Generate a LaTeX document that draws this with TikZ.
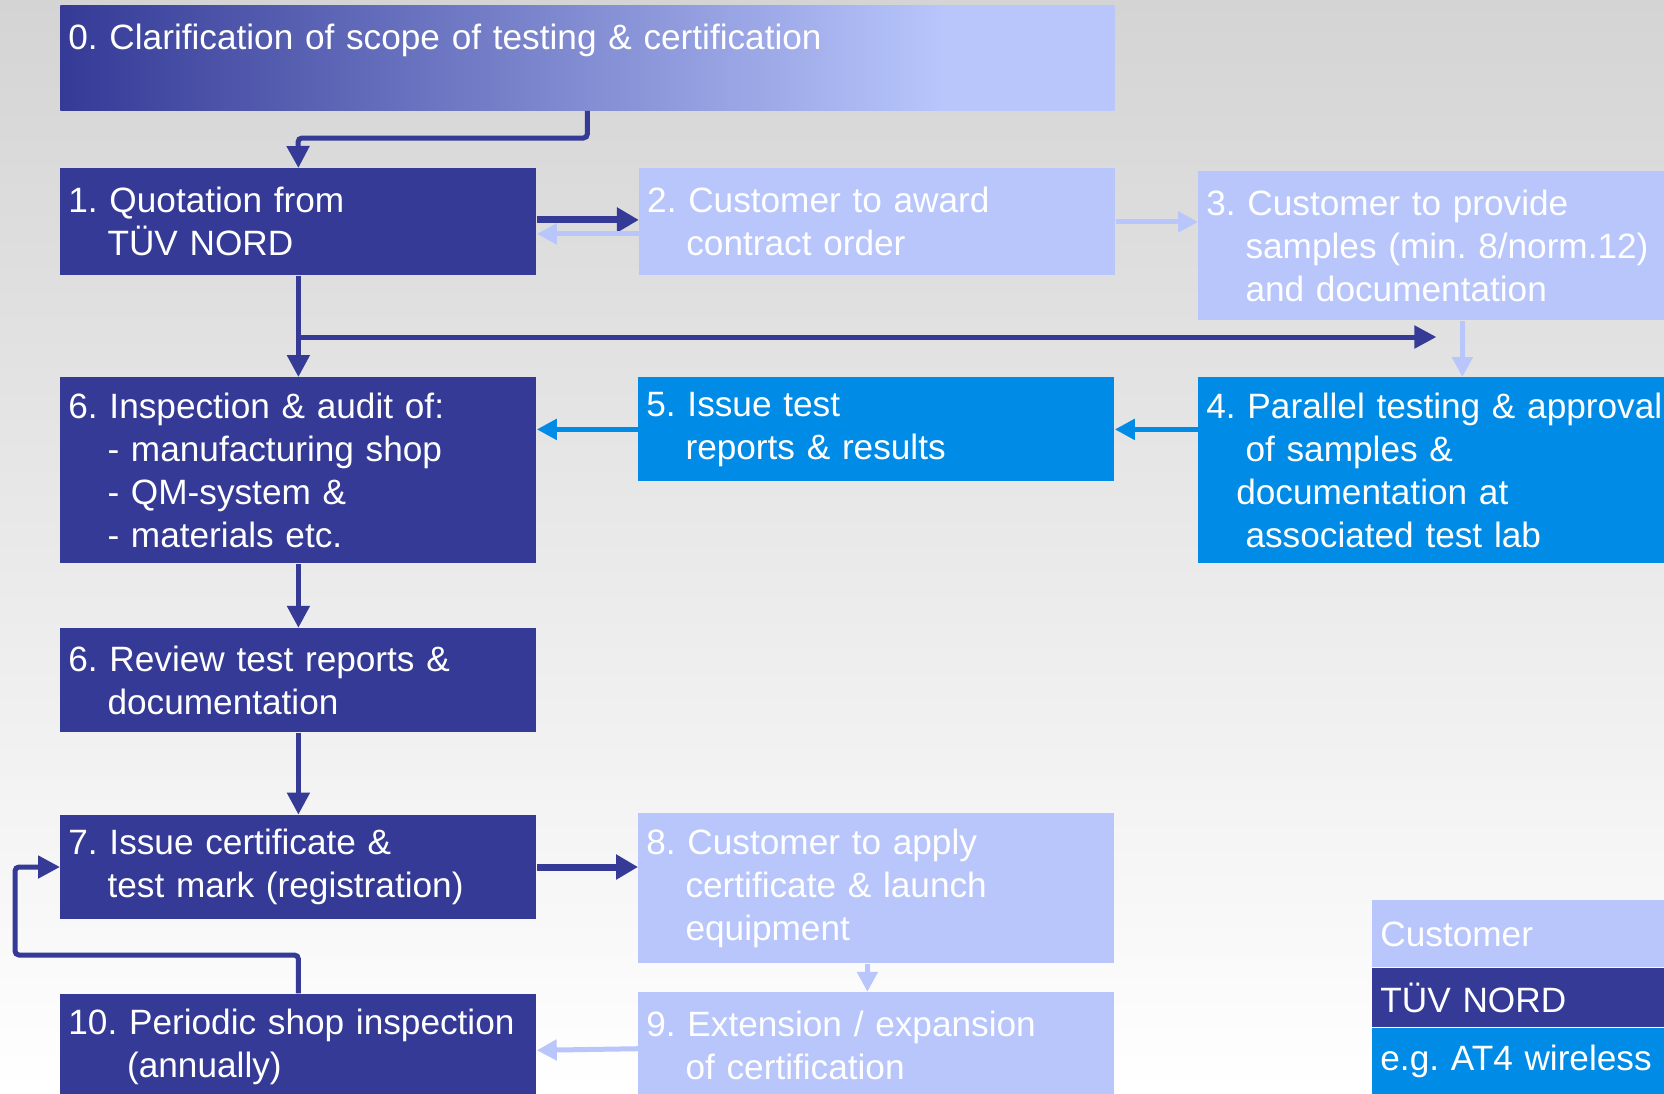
\documentclass[tikz,border=0pt]{standalone}
\usepackage{fontspec}
\setmainfont{Liberation Sans}
\usetikzlibrary{positioning,arrows.meta}
\definecolor{tuvdark}{RGB}{52,58,150}
\definecolor{custlight}{RGB}{184,198,252}
\definecolor{labblue}{RGB}{0,140,230}
\definecolor{bgtop}{RGB}{212,212,212}
\pgfdeclarehorizontalshading{clarif}{100bp}{color(0bp)=(tuvdark); color(25bp)=(tuvdark); color(67bp)=(custlight); color(100bp)=(custlight)}
\newcommand{\indt}{\hspace*{1.112em}}
\frenchspacing
\hyphenpenalty=10000
\tikzset{box/.style={text=white, inner xsep=4pt, inner ysep=2pt, text width=230pt, align=left,
	 font=\fontsize{17.6pt}{21.5pt}\selectfont},
	 tbox/.style={box, fill=tuvdark},
	 cbox/.style={box, fill=custlight},
	 lbox/.style={box, fill=labblue},
	 tarr/.style={draw=tuvdark, line width=2.5pt, -{Triangle[length=11pt,width=11pt]}},
	 carr/.style={draw=custlight, line width=2.5pt, -{Triangle[length=10pt,width=10pt]}},
	 larr/.style={draw=labblue, line width=2.5pt, -{Triangle[length=10pt,width=10pt]}}
	 }

\begin{document}
\begin{tikzpicture}[x=0.5pt, y=-0.5pt, thickarr/.style={line width=3.5pt, -{Triangle[length=11pt,width=12pt]}}]
	\useasboundingbox (0,0) rectangle (1664,1093);
	\shade[top color=bgtop, bottom color=white] (0,0) rectangle (1664,1093);
	% boxes
	\node[box, shade, shading=clarif, text width=519pt, minimum height=52.5pt, anchor=north west] (b0) at (60,5)
	  {0. Clarification of scope of testing \& certification\\\mbox{}};
	\node[tbox, minimum height=53.5pt, anchor=north west] (b1) at (60,168) {1. Quotation from\\\indt TÜV NORD};
	\node[cbox, minimum height=53.5pt] (b2) [right=51pt of b1] {2. Customer to award\\\indt contract order};
	\node[cbox, minimum height=74.5pt, anchor=north west] (b3) at (1198,171)
	  {3. Customer to provide\\\indt samples (min. 8/norm.12)\\\indt and documentation};
	\node[tbox, minimum height=93pt, anchor=north west] (b6a) at (60,377)
	  {6. Inspection \& audit of:\\\indt - manufacturing shop\\\indt - QM-system \&\\\indt - materials etc.};
	\node[lbox, minimum height=52pt, anchor=north west] (b5) at (638,377) {5. Issue test\\\indt reports \& results};
	\node[lbox, minimum height=93pt, anchor=north west] (b4) at (1198,377)
	  {4. Parallel testing \& approval\\\indt of samples \&\\\hspace*{0.85em}documentation at\\\indt associated test lab};
	\node[tbox, minimum height=52pt] (b6b) [below=32pt of b6a] {6. Review test reports \&\\\indt documentation};
	\node[tbox, minimum height=52pt] (b7) [below=41pt of b6b] {7. Issue certificate \&\\\indt test mark (registration)};
	\node[tbox, minimum height=53.5pt] (b10) [below=37pt of b7] {10. Periodic shop inspection\\\hspace*{1.668em}(annually)};
	\node[cbox, minimum height=75pt, anchor=north west] (b8) at (638,813)
	  {8. Customer to apply\\\indt certificate \& launch\\\indt equipment};
	\node[cbox, minimum height=53.5pt] (b9) [below=14pt of b8] {9. Extension / expansion\\\indt of certification};
	% legend
	\node[cbox, minimum height=33.5pt, anchor=north west] (cust) at (1372,900) {Customer};
	\node[tbox, minimum height=29.5pt] (tuv) [below=0pt of cust] {TÜV NORD};
	\node[lbox, minimum height=33.5pt] (lab) [below=0pt of tuv] {e.g. AT4 wireless};
	% connectors
	\coordinate (k0) at (298,138);
	\coordinate (k1) at (298,337);
	\coordinate (lp) at (15,955);
	\draw[tarr, rounded corners=2pt] (b0.south) |- (k0) -- (b1.north);
	\draw[tarr, thickarr] ([yshift=1pt]b1.east) -- ([yshift=1pt]b2.west);
	\draw[carr] ([yshift=-6pt]b2.west) -- ([yshift=-6pt]b1.east);
	\draw[carr] (b2.east) -- (b2.east -| b3.west);
	\draw[tarr] (b1.south) -- (b6a.north);
	\draw[tarr] (k1) -- (k1 -| b3.south);
	\draw[carr] ([xshift=13pt]b3.south) -- ([xshift=13pt]b4.north);
	\draw[larr] (b4.west |- b5.east) -- (b5.east);
	\draw[larr] (b5.west) -- (b6a.east |- b5.west);
	\draw[tarr] (b6a.south) -- (b6b.north);
	\draw[tarr] (b6b.south) -- (b7.north);
	\draw[tarr, thickarr] (b7.east) -- (b8.west |- b7.east);
	\draw[carr] ([xshift=-4.5pt]b8.south) -- ([xshift=-4.5pt]b9.north);
	\draw[carr] ([yshift=-1.5pt]b9.west) -- ([yshift=-1.5pt]b10.east);
	\draw[tarr, rounded corners=2pt] (b10.north) |- (lp) |- (b7.west);
\end{tikzpicture}
\end{document}
